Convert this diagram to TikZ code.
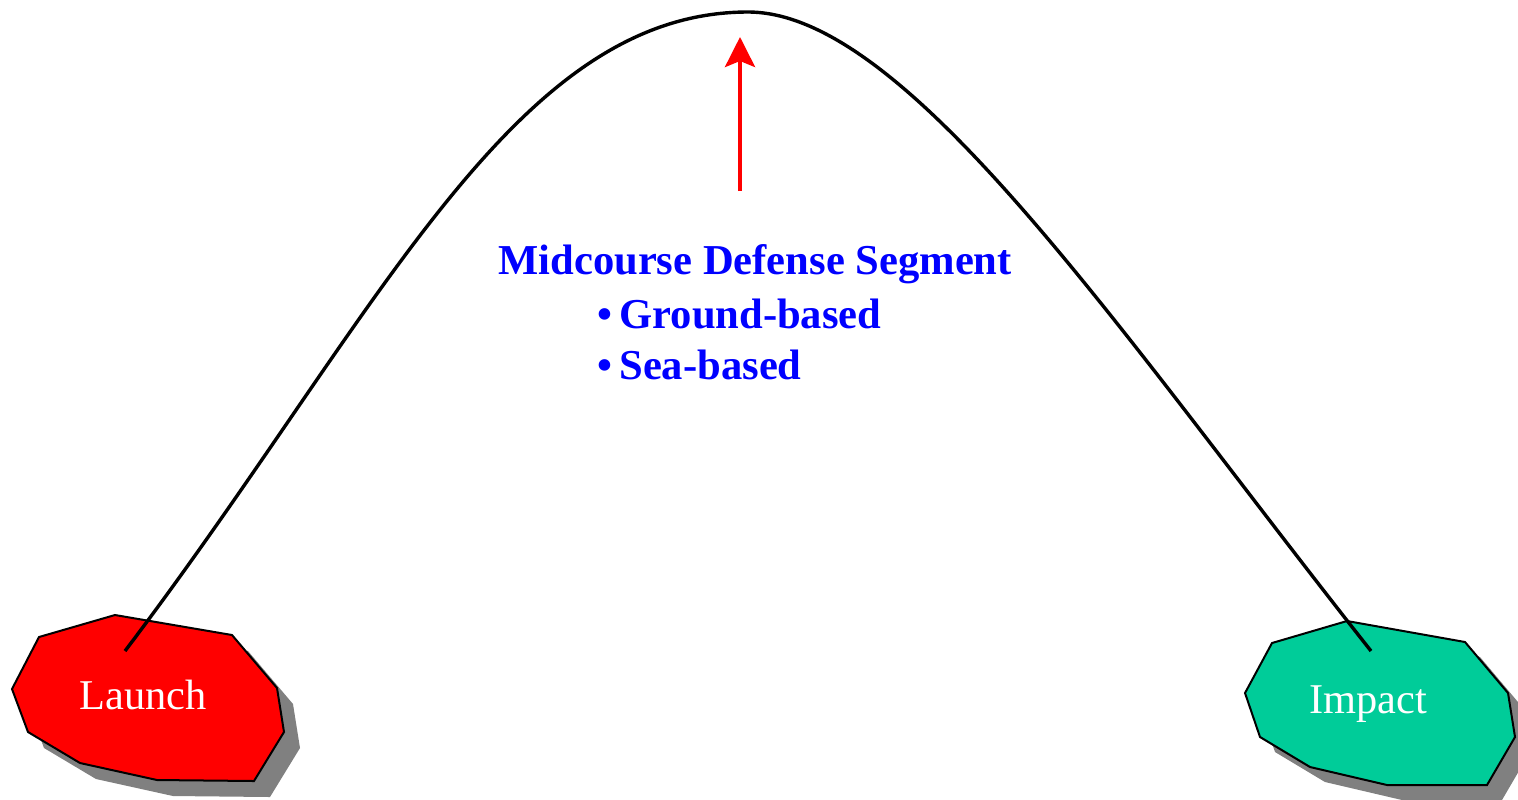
\documentclass[tikz,border=0pt]{standalone}
\usepackage{fontspec}
\setmainfont{Liberation Serif}
\usetikzlibrary{arrows.meta}
\definecolor{launchred}{RGB}{255,0,0}
\definecolor{impactgreen}{RGB}{0,204,153}
\definecolor{shadowgray}{RGB}{128,128,128}
\definecolor{titleblue}{RGB}{0,0,255}
\tikzset{
  blob/.style={draw=black, line width=1pt, line join=miter},
  blobshadow/.style={fill=shadowgray, draw=none},
  blobtext/.style={text=white, font=\fontsize{21.2}{25}\selectfont, inner sep=0pt, anchor=base},
  traj/.style={line width=1.7pt, black},
  redarrow/.style={draw=launchred, line width=2pt, -{Stealth[length=15pt, width=15pt, inset=3pt]}},
  bluetext/.style={text=titleblue, font=\fontsize{21.3}{25}\selectfont\bfseries, inner sep=0pt, anchor=base west}
}
\begin{document}
\begin{tikzpicture}[x=0.5pt, y=-0.5pt]
\useasboundingbox (0,0) rectangle (1518,799);
% Launch blob
\fill[blobshadow, shift={(16,16)}] (115,615) -- (232,635) -- (277,688) -- (284,732) -- (254,781) -- (157,780) -- (80,763) -- (28,732) -- (12,689) -- (39,637) -- cycle;
\draw[blob, fill=launchred] (115,615) -- (232,635) -- (277,688) -- (284,732) -- (254,781) -- (157,780) -- (80,763) -- (28,732) -- (12,689) -- (39,637) -- cycle;
% Impact blob
\fill[blobshadow, shift={(15,15)}] (1347,621) -- (1465,642) -- (1508,693) -- (1515,737) -- (1487,785) -- (1387,785) -- (1310,767) -- (1260,737) -- (1245,693) -- (1272,643) -- cycle;
\draw[blob, fill=impactgreen] (1347,621) -- (1465,642) -- (1508,693) -- (1515,737) -- (1487,785) -- (1387,785) -- (1310,767) -- (1260,737) -- (1245,693) -- (1272,643) -- cycle;
% trajectory
\coordinate (ls) at (125,651);
\coordinate (apex) at (748,12);
\coordinate (is) at (1371,651);
\draw[traj] (ls) .. controls (378,317) and (512,12) .. (apex)
            .. controls (908,12) and (1122,336) .. (is);
% labels
\node[blobtext] (launch) at (143,709) {Launch};
\node[blobtext] (impact) at (1368,713) {Impact};
% arrow
\coordinate (arrowtail) at (740,191);
\coordinate (arrowtip) at (740,37);
\draw[redarrow] (arrowtail) -- (arrowtip);
% text
\node[bluetext] (title) at (498,274) {Midcourse Defense Segment};
\node[bluetext] (ground) at (597,328) {\textbullet\,Ground-based};
\node[bluetext] (sea) at (597,379) {\textbullet\,Sea-based};
\end{tikzpicture}
\end{document}
